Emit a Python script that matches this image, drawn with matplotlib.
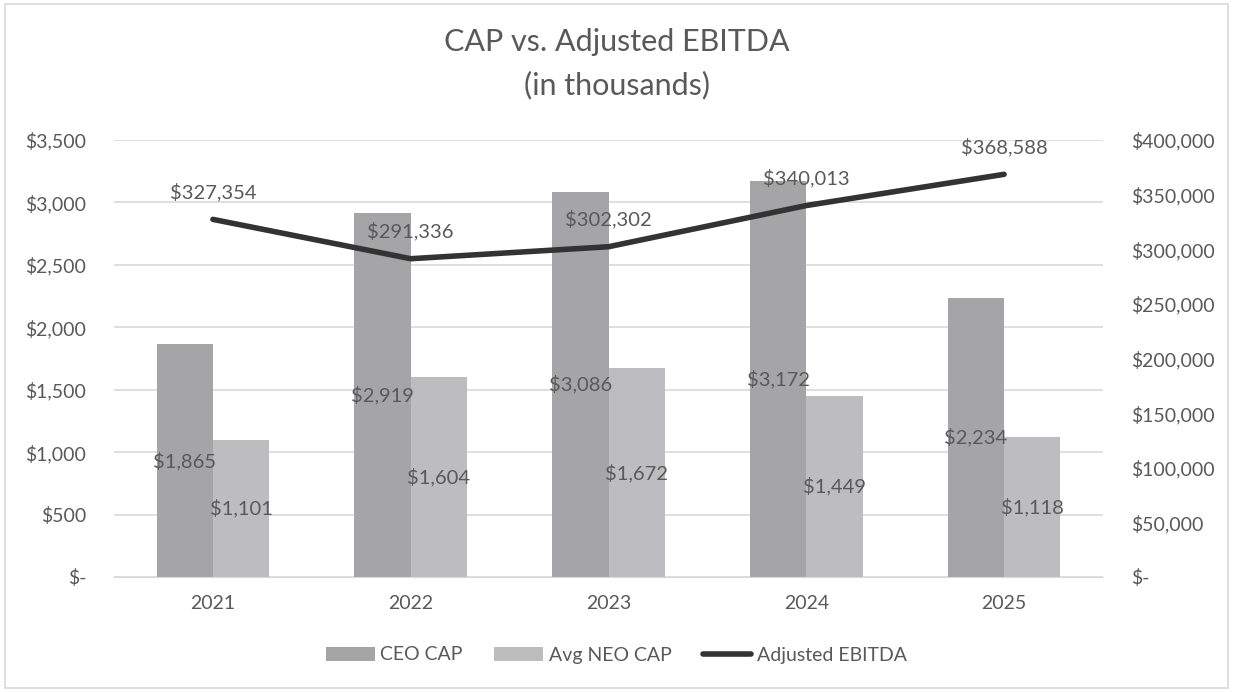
import matplotlib.pyplot as plt
import numpy as np
from matplotlib.patches import Rectangle

plt.rcParams['font.family'] = ['Lato', 'DejaVu Sans']

years = ['2021', '2022', '2023', '2024', '2025']
ceo_cap = [1865, 2919, 3086, 3172, 2234]
neo_cap = [1101, 1604, 1672, 1449, 1118]
ebitda = [327354, 291336, 302302, 340013, 368588]

left_ticks = [0, 500, 1000, 1500, 2000, 2500, 3000, 3500]
right_ticks = [0, 50000, 100000, 150000, 200000, 250000, 300000, 350000, 400000]

txt = '#595959'
ceo_col = '#a5a5a8'
neo_col = '#bdbdc0'
line_col = '#333333'

def money(v):
    return '$-' if v == 0 else '${:,.0f}'.format(v)

fig = plt.figure(figsize=(12.33, 6.92), dpi=100)
fig.patches.append(Rectangle((0.004, 0.006), 0.992, 0.988, transform=fig.transFigure,
                             fill=False, edgecolor='#d9d9d9', linewidth=1.2))
ax = fig.add_axes([114/1233, 1 - 577/692, (1103-114)/1233, (577-140)/692])
ax2 = ax.twinx()

x = np.arange(len(years))
w = 0.285
b1 = ax.bar(x - w/2, ceo_cap, w, color=ceo_col, label='CEO CAP', zorder=2)
b2 = ax.bar(x + w/2, neo_cap, w, color=neo_col, label='Avg NEO CAP', zorder=2)
for bars, vals in ((b1, ceo_cap), (b2, neo_cap)):
    for r, v in zip(bars, vals):
        ax.text(r.get_x() + r.get_width()/2, v/2, money(v), ha='center', va='center',
                fontsize=14.5, color=txt, zorder=3)

ax.set_xlim(-0.5, len(years) - 0.5)
ax.set_ylim(0, 3500)
ax.set_yticks(left_ticks)
ax.set_yticklabels([money(t) for t in left_ticks])
ax.set_xticks(x)
ax.set_xticklabels(years)
ax.grid(axis='y', color='#d9d9d9', linewidth=1.2, zorder=0)
ax.set_axisbelow(True)

l1, = ax2.plot(x, ebitda, color=line_col, linewidth=4, label='Adjusted EBITDA',
               solid_capstyle='round', zorder=4)
for xi, v in zip(x, ebitda):
    ax2.annotate(money(v), (xi, v), xytext=(0, 13), textcoords='offset points',
                 ha='center', va='bottom', fontsize=14.5, color=txt)
ax2.set_ylim(0, 400000)
ax2.set_yticks(right_ticks)
ax2.set_yticklabels([money(t) for t in right_ticks])

for a in (ax, ax2):
    for s in a.spines.values():
        s.set_visible(False)
    a.tick_params(length=0, labelsize=14, colors=txt)
ax.spines['bottom'].set_visible(True)
ax.spines['bottom'].set_color('#d9d9d9')
ax.tick_params(axis='x', pad=13)
ax.tick_params(axis='y', pad=20)
ax2.tick_params(axis='y', pad=20)

fig.text(0.5, 0.96, 'CAP vs. Adjusted EBITDA\n(in thousands)', ha='center', va='top',
         fontsize=22, color=txt, linespacing=1.65)

fig.legend(handles=[b1, b2, l1], loc='center', bbox_to_anchor=(0.5, 1 - 655/692),
           ncol=3, frameon=False, fontsize=14, labelcolor=txt, handlelength=2.5,
           columnspacing=1.6, handletextpad=0.3)

fig.savefig('out.png', dpi=100)
